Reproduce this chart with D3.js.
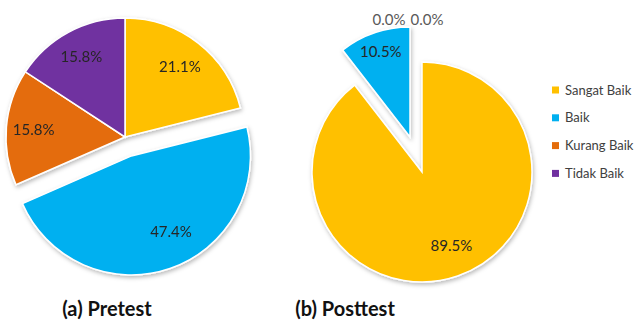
<!DOCTYPE html>
<html><head><meta charset="utf-8">
<script src="https://cdn.jsdelivr.net/npm/d3@7"></script>
<style>body{margin:0;background:#fff}svg{display:block}</style>
</head><body>
<svg id="chart" width="641" height="322"></svg>
<script>
const categories = ["Sangat Baik", "Baik", "Kurang Baik", "Tidak Baik"];
const pretestValues = [21.1, 47.4, 15.8, 15.8];
const posttestValues = [89.5, 10.5, 0.0, 0.0];
const chartTitles = ["(a) Pretest", "(b) Posttest"];
const colors = ["#FFC000", "#00B0F0", "#E46C0A", "#7030A0"];

const svg = d3.select("#chart");
const defs = svg.append("defs");
const f = defs.append("filter").attr("id","sh").attr("x","-20%").attr("y","-20%").attr("width","140%").attr("height","140%");
f.append("feDropShadow").attr("dx",1).attr("dy",2).attr("stdDeviation",2).attr("flood-color","#000").attr("flood-opacity",0.28);

const color = d3.scaleOrdinal().domain(categories).range(colors);
const pie = d3.pie().sort(null).value(d => d.v);

const pies = [
  {values: pretestValues, cx: 125, cy: 137, r: 119, explode: [0, 20, 0, 0], lr: [0.75, 0.72, 0.77, 0.77], la: [0, -0.15, 0, 0], title: chartTitles[0], tx: 107},
  {values: posttestValues, cx: 422, cy: 172, r: 110, explode: [0, 37, 0, 0], lr: [0.72, 0.82, 1.38, 1.38], la: [-0.05, 0, 0, 0], title: chartTitles[1], tx: 345}
];

pies.forEach(p => {
  const data = pie(categories.map((c, i) => ({c, v: p.values[i], i})));
  const arc = d3.arc().innerRadius(0).outerRadius(p.r);
  const g = svg.append("g").attr("transform", `translate(${p.cx},${p.cy})`);
  const off = d => {
    const a = (d.startAngle + d.endAngle) / 2, e = p.explode[d.index];
    return [Math.sin(a) * e, -Math.cos(a) * e];
  };
  g.append("g").attr("filter","url(#sh)").selectAll("path").data(data.filter(d => d.value > 0)).join("path")
    .attr("d", arc)
    .attr("transform", d => `translate(${off(d)})`)
    .attr("fill", d => color(d.data.c))
    .attr("stroke", "#fff").attr("stroke-width", 1.5);
  let zeroIdx = 0;
  g.selectAll("text").data(data).join("text")
    .attr("transform", d => {
      const a = (d.startAngle + d.endAngle) / 2 + p.la[d.index], rr = p.r * p.lr[d.index];
      const o = off(d);
      let x = Math.sin(a) * rr + o[0], y = -Math.cos(a) * rr + o[1];
      if (d.value === 0) { x += (zeroIdx++ === 0 ? -1 : 1) * 19 - 14; }
      return `translate(${x},${y})`;
    })
    .attr("text-anchor", "middle").attr("dy", "0.35em")
    .attr("font-family", "Lato, 'Open Sans', sans-serif").attr("font-size", 15)
    .attr("fill", d => d.value === 0 ? "#595959" : "#262626")
    .text(d => d.value.toFixed(1) + "%");
  svg.append("text").attr("x", p.tx).attr("y", 316).attr("text-anchor", "middle")
    .attr("font-family", "Lato, 'Open Sans', sans-serif").attr("font-weight", "bold").attr("font-size", 20)
    .attr("fill", "#111").text(p.title);
});

const lg = svg.append("g").attr("transform", "translate(552,90)");
const items = lg.selectAll("g").data(categories).join("g").attr("transform", (d, i) => `translate(0,${i * 27.8})`);
items.append("rect").attr("x", 0).attr("y", -3.5).attr("width", 7).attr("height", 7).attr("fill", d => color(d));
items.append("text").attr("x", 13).attr("dy", "0.35em")
  .attr("font-family", "Lato, 'Open Sans', sans-serif").attr("font-size", 13).attr("fill", "#404040").text(d => d);
</script>
</body></html>
